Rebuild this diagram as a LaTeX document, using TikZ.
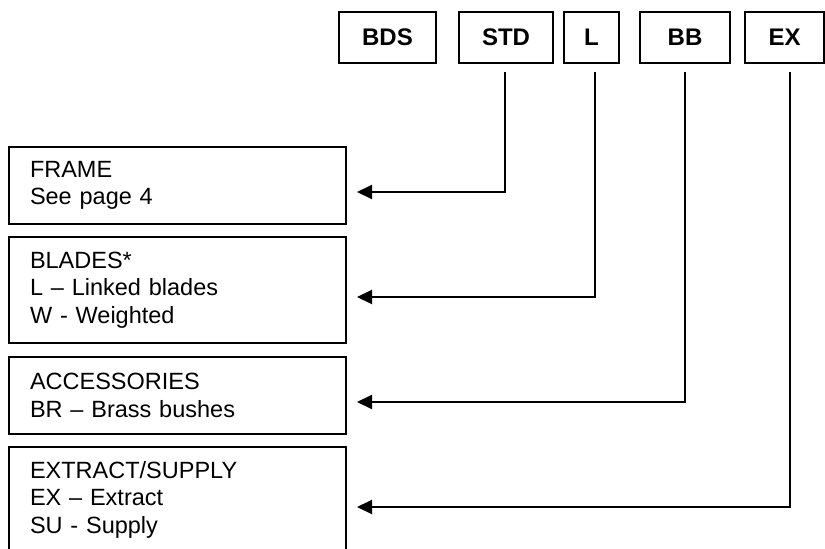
\documentclass[tikz,border=0pt]{standalone}
\usepackage{fontspec}
\setmainfont{Liberation Sans}
\usetikzlibrary{arrows.meta,calc}
\begin{document}
\begin{tikzpicture}[x=1pt,y=-1pt,
  code/.style={draw,line width=2pt,font=\fontsize{24}{28}\selectfont\bfseries,minimum height=51pt,inner sep=0pt},
  info/.style={draw,line width=2pt,font=\fontsize{23.5}{27.5}\selectfont,align=left,text width=295pt,inner xsep=21pt,inner ysep=0pt,minimum width=337pt},
  conn/.style={line width=2pt,-{Triangle[length=15pt,width=14pt]}}]
\clip (0,0) rectangle (825,549);
\node[code,minimum width=97pt] (bds) at (387.5,37.5) {BDS};
\node[code,minimum width=94pt] (std) at (506,37.5) {STD};
\node[code,minimum width=55pt] (l) at (591.5,37.5) {L};
\node[code,minimum width=90pt] (bb) at (685,37.5) {BB};
\node[code,minimum width=79pt] (ex) at (784.5,37.5) {EX};
\node[info,minimum height=77pt] (frame) at (177.5,185.5) {FRAME\\See page 4};
\node[info,minimum height=106pt] (blades) at (177.5,290) {BLADES*\\L – Linked blades\\W - Weighted};
\node[info,minimum height=77pt] (acc) at (177.5,395.5) {ACCESSORIES\\BR – Brass bushes};
\node[info,minimum height=105pt] (extract) at (177.5,499.5) {EXTRACT/SUPPLY\\EX – Extract\\SU - Supply};
\draw[conn] ($(std.south)+(-1,8)$) |- ($(frame.east)+(10,6.5)$);
\draw[conn] ($(l.south)+(3.5,8)$) |- ($(blades.east)+(10,7)$);
\draw[conn] ($(bb.south)+(0,8)$) |- ($(acc.east)+(10,6.5)$);
\draw[conn] ($(ex.south)+(5.5,8)$) |- ($(extract.east)+(10,7.5)$);
\end{tikzpicture}
\end{document}
